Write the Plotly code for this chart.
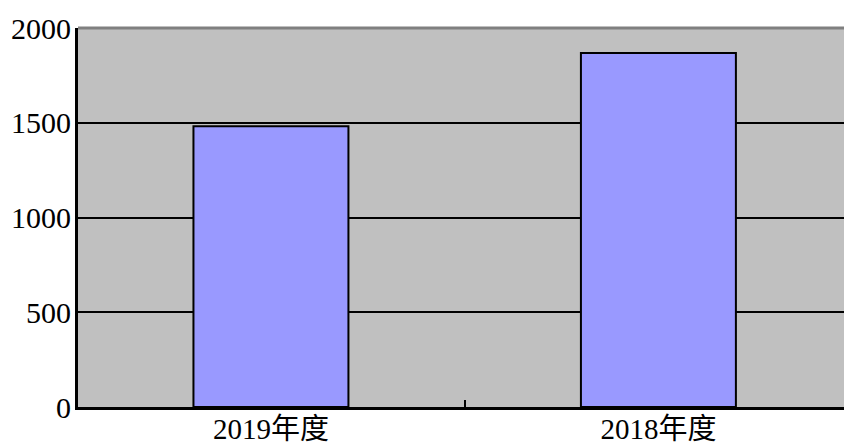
import plotly.graph_objects as go

categories = ["2019年度", "2018年度"]
values = [1482, 1868]
y_ticks = [0, 500, 1000, 1500, 2000]

xpos = list(range(len(categories)))

fig = go.Figure()
fig.add_trace(go.Bar(
    x=xpos, y=values, width=0.40,
    marker=dict(color="#9999FF", line=dict(color="black", width=2)),
    hoverinfo="skip",
))

font = dict(family="Liberation Serif, Noto Sans CJK SC, serif", size=30, color="black")
xfont = dict(family="Liberation Serif, Noto Sans CJK SC, serif", size=29, color="black")

fig.update_layout(
    width=844, height=446,
    margin=dict(l=78, r=0, t=28, b=39, autoexpand=False),
    paper_bgcolor="white",
    plot_bgcolor="#C0C0C0",
    showlegend=False,
    font=font,
    xaxis=dict(
        range=[-0.498, 1.479], automargin=False,
        tickmode="array", tickvals=xpos, ticktext=categories,
        ticks="", showgrid=False, zeroline=False,
        showline=True, linecolor="black", linewidth=3,
        tickfont=xfont, ticklabelstandoff=-6,
        minor=dict(tickmode="array", tickvals=[0.5], ticks="inside",
                   ticklen=7, tickwidth=2, tickcolor="black", showgrid=False),
    ),
    yaxis=dict(
        range=[0, 2000], automargin=False,
        tickmode="array", tickvals=y_ticks,
        ticks="", showgrid=True, gridcolor="black", gridwidth=2,
        zeroline=False, showline=True, linecolor="black", linewidth=3,
        tickfont=font, ticklabelstandoff=-2,
    ),
    shapes=[dict(type="line", xref="paper", yref="paper", x0=0, x1=1, y0=1, y1=1,
                 line=dict(color="#808080", width=3), layer="above")],
)

fig.write_html("out.html", config={"displayModeBar": False},
               post_script="document.body.style.margin='0';document.body.style.overflow='hidden';")
